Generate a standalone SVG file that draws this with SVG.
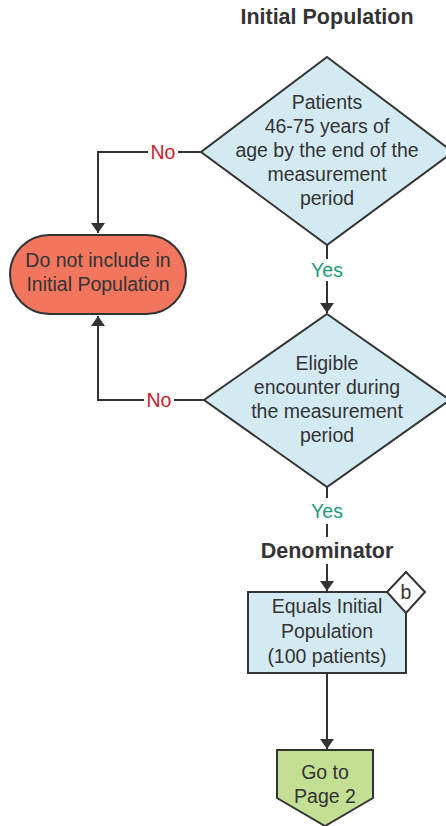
<svg xmlns="http://www.w3.org/2000/svg" width="446" height="826" viewBox="0 0 446 826">
<style>
.n{stroke:#333;stroke-width:2}
.t{font-family:"Liberation Sans",Arial,sans-serif;font-size:19.5px;fill:#333;text-anchor:middle}
.h{font-family:"Liberation Sans",Arial,sans-serif;font-size:21.5px;font-weight:bold;fill:#333;text-anchor:middle}
.c{fill:none;stroke:#333;stroke-width:2}
.no{font-family:"Liberation Sans",Arial,sans-serif;font-size:19.5px;fill:#c8202f;text-anchor:middle}
.yes{font-family:"Liberation Sans",Arial,sans-serif;font-size:19.5px;fill:#1e9a7c;text-anchor:middle}
</style>
<defs>
<marker id="a" markerWidth="10" markerHeight="14" refX="10" refY="7" orient="auto" markerUnits="userSpaceOnUse" viewBox="0 0 10 14">
<path d="M0,0 L10,7 L0,14 Z" fill="#333"/>
</marker>
</defs>
<rect width="446" height="826" fill="#fff"/>
<text class="h" x="327" y="24">Initial Population</text>
<g id="connectors">
<path class="c" d="M201,152 H98 V233" marker-end="url(#a)"/>
<path class="c" d="M204,400 H98 V316" marker-end="url(#a)"/>
<path class="c" d="M327,245 V313" marker-end="url(#a)"/>
<path class="c" d="M327,487 V498"/>
<path class="c" d="M327,524 V537"/>
<path class="c" d="M327,564 V591" marker-end="url(#a)"/>
<path class="c" d="M327,673 V749" marker-end="url(#a)"/>
<rect x="148" y="141" width="30" height="22" fill="#fff"/>
<text class="no" x="163" y="159">No</text>
<rect x="144" y="389" width="30" height="22" fill="#fff"/>
<text class="no" x="159" y="407">No</text>
<rect x="307" y="259" width="40" height="22" fill="#fff"/>
<text class="yes" x="327" y="277">Yes</text>
<text class="yes" x="327" y="518">Yes</text>
</g>
<text class="h" x="327" y="558">Denominator</text>
<g id="d1">
<polygon class="n" points="327,57 453,152 327,245 201,152" fill="#d4eaf3"/>
<text class="t" x="327" y="109">Patients</text>
<text class="t" x="327" y="133">46-75 years of</text>
<text class="t" x="327" y="157">age by the end of the</text>
<text class="t" x="327" y="181">measurement</text>
<text class="t" x="327" y="205">period</text>
</g>
<g id="term">
<rect class="n" x="10" y="235" width="176" height="79" rx="39.5" fill="#f2765e"/>
<text class="t" x="98" y="267">Do not include in</text>
<text class="t" x="98" y="291">Initial Population</text>
</g>
<g id="d2">
<polygon class="n" points="327,314 450,400 327,487 204,400" fill="#d4eaf3"/>
<text class="t" x="327" y="370">Eligible</text>
<text class="t" x="327" y="394">encounter during</text>
<text class="t" x="327" y="418">the measurement</text>
<text class="t" x="327" y="442">period</text>
</g>
<g id="box">
<rect class="n" x="248" y="592" width="158" height="81" fill="#d4eaf3"/>
<text class="t" x="327" y="613">Equals Initial</text>
<text class="t" x="327" y="638">Population</text>
<text class="t" x="327" y="663">(100 patients)</text>
</g>
<g id="b">
<polygon class="n" points="406,572 425,592 406,613 387,592" fill="#fff"/>
<text class="t" x="406" y="599">b</text>
</g>
<g id="page">
<polygon class="n" points="277,750 373,750 373,798 325,826 277,798" fill="#c3df93"/>
<text class="t" x="325" y="779">Go to</text>
<text class="t" x="325" y="803">Page 2</text>
</g>
</svg>
